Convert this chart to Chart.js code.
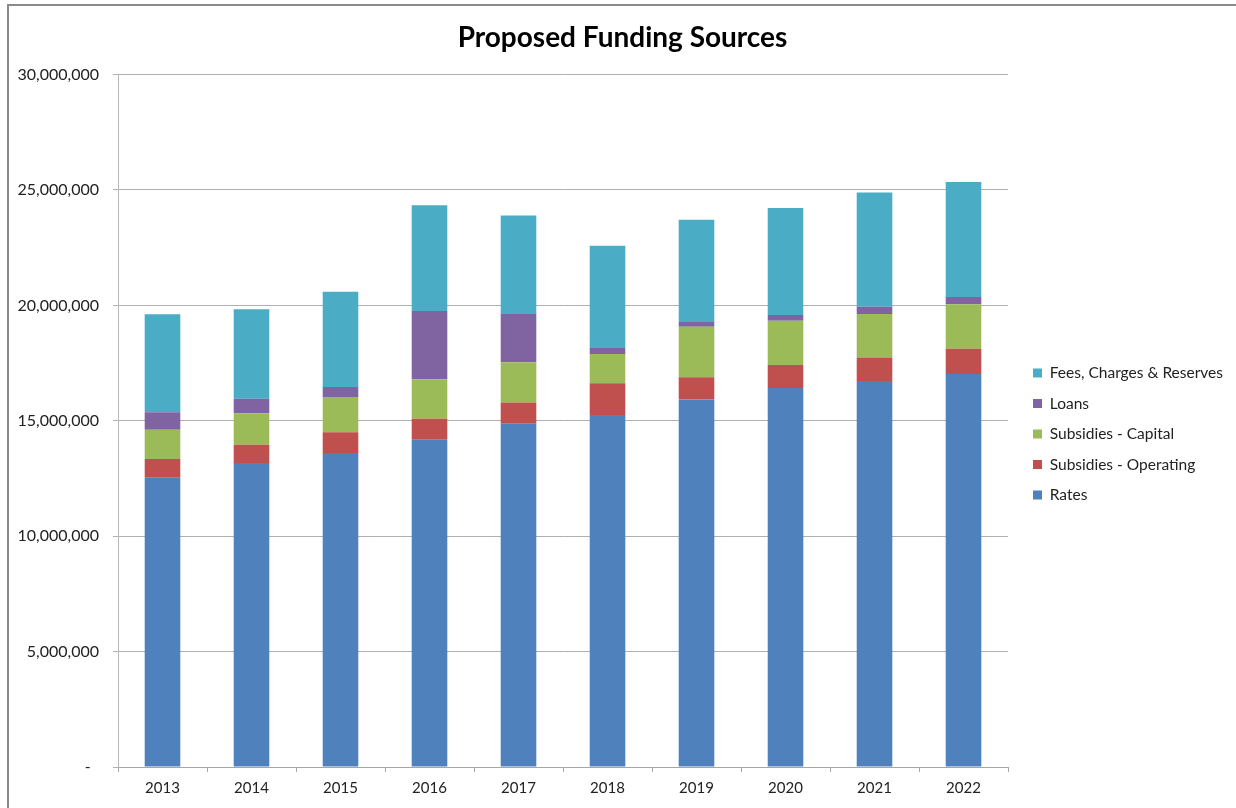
<!DOCTYPE html>
<html>
<head>
  <title>Proposed Funding Sources</title>
  <script src="https://cdn.jsdelivr.net/npm/chart.js@4/dist/chart.umd.min.js"></script>
  <style>
    html, body { margin: 0; background: #fff; overflow: hidden; }
    #wrap { position: relative; width: 1236px; height: 808px; overflow: hidden; }
    #frame { position: absolute; left: 7px; top: 4px; width: 1300px; height: 900px; border-left: 2px solid #8a8a8a; border-top: 2px solid #8a8a8a; }
    canvas { position: absolute; left: 0; top: 0; }
  </style>
</head>
<body>
  <div id="wrap">
    <div id="frame"></div>
    <canvas id="funding-chart" width="1236" height="808"></canvas>
  </div>
  <script>
    // years and funding by source (values in dollars)
    const years = ['2013', '2014', '2015', '2016', '2017', '2018', '2019', '2020', '2021', '2022'];
    const rates = [12530000, 13170000, 13610000, 14180000, 14870000, 15250000, 15920000, 16420000, 16720000, 17030000];
    const subsOperating = [820000, 790000, 890000, 910000, 920000, 1380000, 970000, 1000000, 1020000, 1090000];
    const subsCapital = [1260000, 1370000, 1530000, 1710000, 1750000, 1260000, 2180000, 1910000, 1890000, 1930000];
    const loans = [760000, 620000, 430000, 2960000, 2090000, 260000, 210000, 250000, 310000, 310000];
    const feesCharges = [4250000, 3880000, 4130000, 4580000, 4260000, 4430000, 4430000, 4640000, 4950000, 4990000];
    const yTicks = [0, 5000000, 10000000, 15000000, 20000000, 25000000, 30000000];

    const FONT = 'Lato, "Liberation Sans", sans-serif';
    Chart.defaults.font.family = FONT;
    Chart.defaults.color = '#222';

    function series(label, data, color) {
      return { label: label, data: data, backgroundColor: color, borderWidth: 0,
               barPercentage: 0.8, categoryPercentage: 0.5 };
    }

    // nudge the legend and title blocks into place after layout
    const blockShift = {
      id: 'blockShift',
      afterLayout(chart) {
        const lg = chart.legend;
        lg.left += 10; lg.right += 10;
        lg.top += 32; lg.bottom += 32;
        const tb = chart.titleBlock;
        tb.left += 7; tb.right += 7;
      }
    };

    const ctx = document.getElementById('funding-chart').getContext('2d');
    new Chart(ctx, {
      type: 'bar',
      data: {
        labels: years,
        datasets: [
          series('Rates', rates, '#4F81BD'),
          series('Subsidies - Operating', subsOperating, '#C0504D'),
          series('Subsidies - Capital', subsCapital, '#9BBB59'),
          series('Loans', loans, '#8064A2'),
          series('Fees, Charges & Reserves', feesCharges, '#4BACC6')
        ]
      },
      plugins: [blockShift],
      options: {
        responsive: false,
        animation: false,
        layout: { padding: { left: 8, right: 13, top: 0, bottom: 4 } },
        plugins: {
          title: {
            display: true,
            text: 'Proposed Funding Sources',
            color: '#000',
            font: { family: FONT, size: 28, weight: 'bold' },
            padding: { top: 21, bottom: 20 }
          },
          legend: {
            position: 'right',
            reverse: true,
            labels: {
              boxWidth: 9, boxHeight: 9, padding: 15,
              color: '#222',
              font: { family: FONT, size: 15.5 }
            }
          },
          tooltip: { enabled: false }
        },
        scales: {
          x: {
            stacked: true,
            grid: { display: true, drawOnChartArea: false, tickLength: 5, color: '#a6a6a6' },
            border: { color: '#a6a6a6' },
            ticks: { padding: 7, font: { family: FONT, size: 15 } }
          },
          y: {
            stacked: true,
            min: 0, max: 30000000,
            afterFit(scale) { scale.width = 110; },
            afterBuildTicks(scale) { scale.ticks = yTicks.map(v => ({ value: v })); },
            grid: { color: '#b0b0b0', tickLength: 5 },
            border: { color: '#b8b8b8' },
            ticks: {
              padding: 14,
              font: { family: FONT, size: 16 },
              callback: v => v === 0 ? '-  ' : v.toLocaleString('en-US')
            }
          }
        }
      }
    });
  </script>
</body>
</html>
